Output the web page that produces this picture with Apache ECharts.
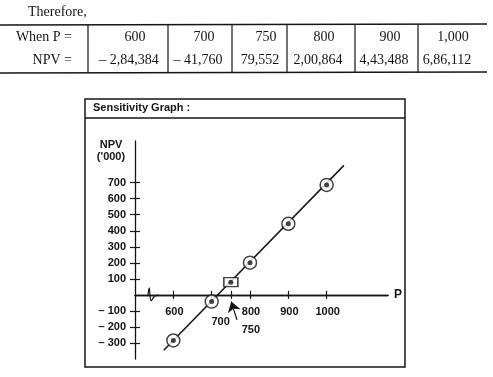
<!DOCTYPE html>
<html>
<head>
<meta charset="utf-8">
<script src="https://cdn.jsdelivr.net/npm/echarts@6/dist/echarts.min.js"></script>
<style>
  html, body { margin: 0; padding: 0; background: #fff; }
  #main { width: 493px; height: 377px; }
</style>
</head>
<body>
<div id="main"></div>
<script>
// table values
const tableP = ["600", "700", "750", "800", "900", "1,000"];
const tableNPV = ["\u2013 2,84,384", "\u2013 41,760", "79,552", "2,00,864", "4,43,488", "6,86,112"];

// graph points (NPV in '000)
const pointP = [600, 700, 800, 900, 1000];
const pointNPV = [-284.384, -41.76, 200.864, 443.488, 686.112];
const breakEvenP = [750];
const breakEvenNPV = [79.552];

// straight line drawn through the points, a bit past both ends
const trendP = [575, 1045];
const trendNPV = [-345, 808];

// axis ticks / labels
const yTicks = [-300, -200, -100, 100, 200, 300, 400, 500, 600, 700];
const xTicks = [600, 700, 750, 800, 900, 1000];
const xLabels = [600, 700, 750, 800, 900, 1000];

// little break mark on the P axis
const breakP = [534, 537, 542, 550, 560];
const breakNPV = [0, 44, -37, -12, 0];

// arrow pointing to 750
const arrowFrom = [766, -156];
const arrowTo = [751, -42];

const ink = "#151515";
const sans = "Liberation Sans, Arial, sans-serif";
const serif = "Liberation Serif, Times New Roman, serif";

let chart = echarts.init(document.getElementById("main"), null, { renderer: "canvas" });

// table drawn as graphic
const colLines = [88, 168, 232, 287, 355, 418];
const colCenters = [131, 200, 262, 320, 386, 449];
let tableEls = [
  { type: "text", x: 28, y: 12, style: { text: "Therefore,", font: "14px " + serif, fill: ink, textVerticalAlign: "middle" } },
  { type: "line", shape: { x1: 0, y1: 25, x2: 487, y2: 24 }, style: { stroke: ink, lineWidth: 1.6 } },
  { type: "line", shape: { x1: 0, y1: 73, x2: 487, y2: 72 }, style: { stroke: ink, lineWidth: 1.6 } },
  { type: "text", x: 72, y: 37, style: { text: "When P =", font: "14px " + serif, fill: ink, textAlign: "right", textVerticalAlign: "middle" } },
  { type: "text", x: 72, y: 60, style: { text: "NPV =", font: "14px " + serif, fill: ink, textAlign: "right", textVerticalAlign: "middle" } }
];
colLines.forEach(function (x) {
  tableEls.push({ type: "line", shape: { x1: x, y1: 25, x2: x, y2: 73 }, style: { stroke: ink, lineWidth: 1.2 } });
});
tableP.forEach(function (t, i) {
  tableEls.push({ type: "text", x: colCenters[i] + 4, y: 37, style: { text: t, font: "14px " + serif, fill: ink, textAlign: "center", textVerticalAlign: "middle" } });
  tableEls.push({ type: "text", x: colCenters[i] - 2, y: 60, style: { text: tableNPV[i], font: "14px " + serif, fill: ink, textAlign: "center", textVerticalAlign: "middle" } });
});

// graph frame
tableEls.push({ type: "rect", shape: { x: 85, y: 99, width: 320, height: 268 }, style: { fill: "none", stroke: ink, lineWidth: 1.5 } });
tableEls.push({ type: "line", shape: { x1: 85, y1: 118, x2: 405, y2: 118 }, style: { stroke: ink, lineWidth: 1.3 } });
tableEls.push({ type: "text", x: 93, y: 108, style: { text: "Sensitivity Graph :", font: "bold 11px " + sans, fill: ink, textVerticalAlign: "middle" } });

const yFmt = function (v) {
  return v < 0 ? "\u2013 " + Math.abs(v) : String(v);
};

// label offsets below the P axis (700 and 750 sit lower)
const xLabelShift = function (p) {
  if (p === 700) return { dx: 9, dy: 27 };
  if (p === 750) return { dx: 20, dy: 35 };
  return { dx: 1, dy: 17 };
};

let option = {
  animation: false,
  backgroundColor: "#fff",
  graphic: { elements: tableEls },
  grid: { left: 135, right: 105, top: 141, bottom: 18 },
  xAxis: [
    {
      type: "value", min: 500, max: 1160, position: "bottom",
      name: "P", nameLocation: "end", nameGap: 6,
      nameTextStyle: { color: ink, fontFamily: sans, fontWeight: "bold", fontSize: 12 },
      axisLine: { onZero: true, onZeroAxisIndex: 0, lineStyle: { color: ink, width: 1.3 } },
      axisTick: { show: true, length: 4, customValues: xTicks, lineStyle: { color: ink, width: 1.2 } },
      axisLabel: { show: false },
      splitLine: { show: false }
    },
    {
      type: "value", min: 500, max: 1160, position: "bottom",
      axisLine: { onZero: true, onZeroAxisIndex: 1, lineStyle: { color: ink, width: 1.3 } },
      axisTick: { show: true, inside: true, length: 4, customValues: xTicks, lineStyle: { color: ink, width: 1.2 } },
      axisLabel: { show: false },
      splitLine: { show: false }
    }
  ],
  yAxis: [
    {
      type: "value", min: -400, max: 960, position: "left",
      name: "NPV\n('000)", nameLocation: "end", nameGap: 2,
      nameTextStyle: { color: ink, fontFamily: sans, fontWeight: "bold", fontSize: 11, lineHeight: 12, align: "center", verticalAlign: "top", padding: [0, 48, 0, 0] },
      axisLine: { show: true, onZero: false, lineStyle: { color: ink, width: 1.3 } },
      axisTick: { show: true, length: 5, customValues: yTicks, lineStyle: { color: ink, width: 1.2 } },
      axisLabel: { customValues: yTicks, margin: 9, color: ink, fontFamily: sans, fontWeight: "bold", fontSize: 11, formatter: yFmt },
      splitLine: { show: false }
    },
    {
      type: "value", min: -400, max: 960, position: "left",
      axisLine: { show: false, onZero: false },
      axisTick: { show: true, inside: true, length: 5, customValues: yTicks, lineStyle: { color: ink, width: 1.2 } },
      axisLabel: { show: false },
      splitLine: { show: false }
    }
  ],
  series: [
    {
      type: "line", data: trendP.map(function (p, i) { return [p, trendNPV[i]]; }),
      symbol: "none", lineStyle: { color: ink, width: 1.5 }, z: 2
    },
    {
      type: "line", smooth: 0.4, data: breakP.map(function (p, i) { return [p, breakNPV[i]]; }),
      symbol: "none", lineStyle: { color: ink, width: 1.2 }, z: 3
    },
    {
      type: "scatter", data: pointP.map(function (p, i) { return [p, pointNPV[i]]; }),
      symbol: "circle", symbolSize: 13,
      itemStyle: { color: "#fff", borderColor: ink, borderWidth: 1.5 }, z: 4
    },
    {
      type: "scatter", data: breakEvenP.map(function (p, i) { return [p, breakEvenNPV[i]]; }),
      symbol: "rect", symbolSize: [14, 9],
      itemStyle: { color: "#fff", borderColor: ink, borderWidth: 1.3 }, z: 4
    },
    {
      type: "scatter",
      data: pointP.concat(breakEvenP).map(function (p, i) { return [p, pointNPV.concat(breakEvenNPV)[i]]; }),
      symbol: "circle", symbolSize: 5, itemStyle: { color: ink }, z: 5
    },
    {
      type: "scatter", data: xLabels.map(function (p) { return [p, 0]; }),
      symbolSize: 1, itemStyle: { color: ink, opacity: 0 },
      label: {
        show: true, position: "inside", color: ink, opacity: 1, textBorderWidth: 0,
        fontFamily: sans, fontWeight: "bold", fontSize: 11,
        formatter: function (p) { return String(p.value[0]); }
      },
      labelLayout: function (params) {
        return xLabelShift(xLabels[params.dataIndex]);
      },
      z: 5
    },
    {
      type: "line", data: [], symbol: "none",
      markLine: {
        silent: true, symbol: ["none", "arrow"], symbolSize: 10,
        itemStyle: { color: ink, opacity: 1 },
        lineStyle: { color: ink, width: 1.2, type: "solid", opacity: 1 },
        label: { show: false },
        emphasis: { disabled: true },
        data: [[{ coord: arrowFrom }, { coord: arrowTo }]]
      },
      z: 5
    }
  ]
};

chart.setOption(option);
</script>
</body>
</html>
